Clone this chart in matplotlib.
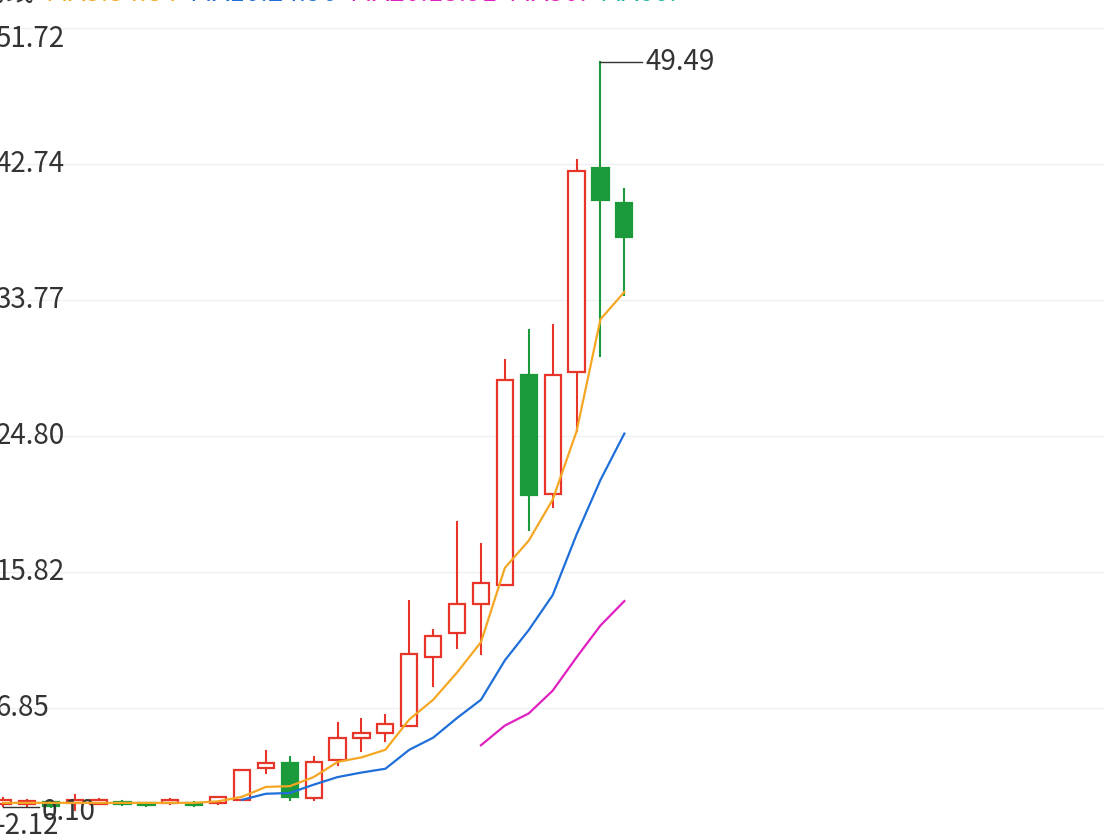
import matplotlib
matplotlib.use("Agg")
import matplotlib.pyplot as plt
import matplotlib.transforms as mtransforms

plt.rcParams['font.family'] = ['Noto Sans CJK SC', 'DejaVu Sans']

opens  = [0.5, 0.5, 0.65, 0.6, 0.55, 0.65, 0.55, 0.6, 0.6, 0.6, 0.8, 2.9, 3.2, 0.92, 3.4, 4.9, 5.2, 5.7, 10.2, 11.8, 13.7, 15.0, 28.8, 21.0, 29.0, 42.5, 40.2]
closes = [0.8, 0.75, 0.4, 0.8, 0.8, 0.5, 0.45, 0.8, 0.45, 1.0, 2.8, 3.2, 0.99, 3.3, 4.9, 5.2, 5.8, 10.4, 11.6, 13.7, 15.1, 28.5, 20.9, 28.8, 42.3, 40.4, 37.9]
highs  = [0.9, 0.8, 0.7, 1.1, 0.85, 0.7, 0.6, 0.85, 0.65, 1.0, 2.8, 4.0, 3.6, 3.6, 5.9, 6.1, 6.4, 13.9, 12.0, 19.1, 17.7, 29.8, 31.8, 32.1, 43.0, 49.49, 41.1]
lows   = [0.4, 0.4, 0.35, 0.1, 0.5, 0.45, 0.4, 0.55, 0.4, 0.55, 0.8, 2.6, 0.8, 0.8, 3.1, 4.0, 4.7, 5.7, 8.3, 10.8, 10.4, 15.0, 18.6, 20.1, 25.1, 30.1, 34.1]
ma5  = [0.6, 0.6, 0.6, 0.6, 0.6, 0.6, 0.6, 0.6, 0.6, 0.7, 1.0, 1.65, 1.7, 2.3, 3.3, 3.6, 4.1, 6.1, 7.4, 9.2, 11.2, 16.1, 17.9, 20.6, 25.1, 32.5, 34.3]
ma10_x = list(range(10, 27))
ma10 = [0.8, 1.2, 1.25, 1.8, 2.3, 2.6, 2.85, 4.1, 4.9, 6.2, 7.4, 10.0, 12.0, 14.3, 18.3, 21.9, 24.96]
ma20_x = list(range(20, 27))
ma20 = [4.4, 5.7, 6.5, 8.0, 10.2, 12.3, 13.91]
yticks = [-2.12, 6.85, 15.82, 24.80, 33.77, 42.74, 51.72]
legend_parts = [("均线  ", "#333333"), ("MA5:34.84  ", "#f5a623"), ("MA10:24.96  ", "#1e6fd9"),
                ("MA20:13.91  ", "#e020c0"), ("MA30:  ", "#e020c0"), ("MA60:", "#20b8a0")]

RED, GREEN = "#e8352a", "#1a9a3a"
fig = plt.figure(figsize=(11.04, 8.4), dpi=100)
ax = fig.add_axes([0, 0, 1, 1])
ax.set_xlim(-0.125, 46.07)
ax.set_ylim(-1.85, 53.56)
ax.axis("off")

for t in yticks:
    ax.axhline(t, color="#eef0f4", lw=1, zorder=0)

w = 0.68
for i, (o, c, h, l) in enumerate(zip(opens, closes, highs, lows)):
    up = c >= o
    col = RED if up else GREEN
    lo, hi = min(o, c), max(o, c)
    ax.plot([i, i], [l, lo], color=col, lw=1.5, zorder=2)
    ax.plot([i, i], [hi, h], color=col, lw=1.5, zorder=2)
    ax.add_patch(plt.Rectangle((i - w / 2, lo), w, max(hi - lo, 0.12),
                               facecolor="white" if up else col, edgecolor=col, lw=1.6, zorder=3))

ax.plot(range(len(ma5)), ma5, color="#f5a623", lw=1.6, zorder=4)
ax.plot(ma10_x, ma10, color="#1e6fd9", lw=1.6, zorder=4)
ax.plot(ma20_x, ma20, color="#e020c0", lw=1.6, zorder=4)

imax = highs.index(max(highs))
ax.plot([imax, imax + 1.75], [highs[imax]] * 2, color="#333333", lw=1)
ax.text(imax + 1.9, highs[imax], f"{highs[imax]:.2f}", fontsize=20, color="#333333", va="center")
imin = lows.index(min(lows))
ax.plot([imin - 3, imin - 1.5], [lows[imin] + 0.2] * 2, color="#333333", lw=1)
ax.text(imin - 1.4, lows[imin] - 0.1, f"{lows[imin]:.2f}", fontsize=20, color="#333333", va="center")

trans = mtransforms.blended_transform_factory(ax.transAxes, ax.transData)
for t in yticks:
    ax.text(-0.004, min(max(t, -0.95), 51.0), f"{t:.2f}", transform=trans, fontsize=20,
            color="#333333", va="center", ha="left")

x = -0.02
for s, col in legend_parts:
    tx = fig.text(x, 1.008, s, fontsize=20, color=col, va="center", ha="left")
    fig.canvas.draw()
    bb = tx.get_window_extent()
    x = bb.x1 / fig.bbox.width

fig.savefig("out.png", dpi=100)
